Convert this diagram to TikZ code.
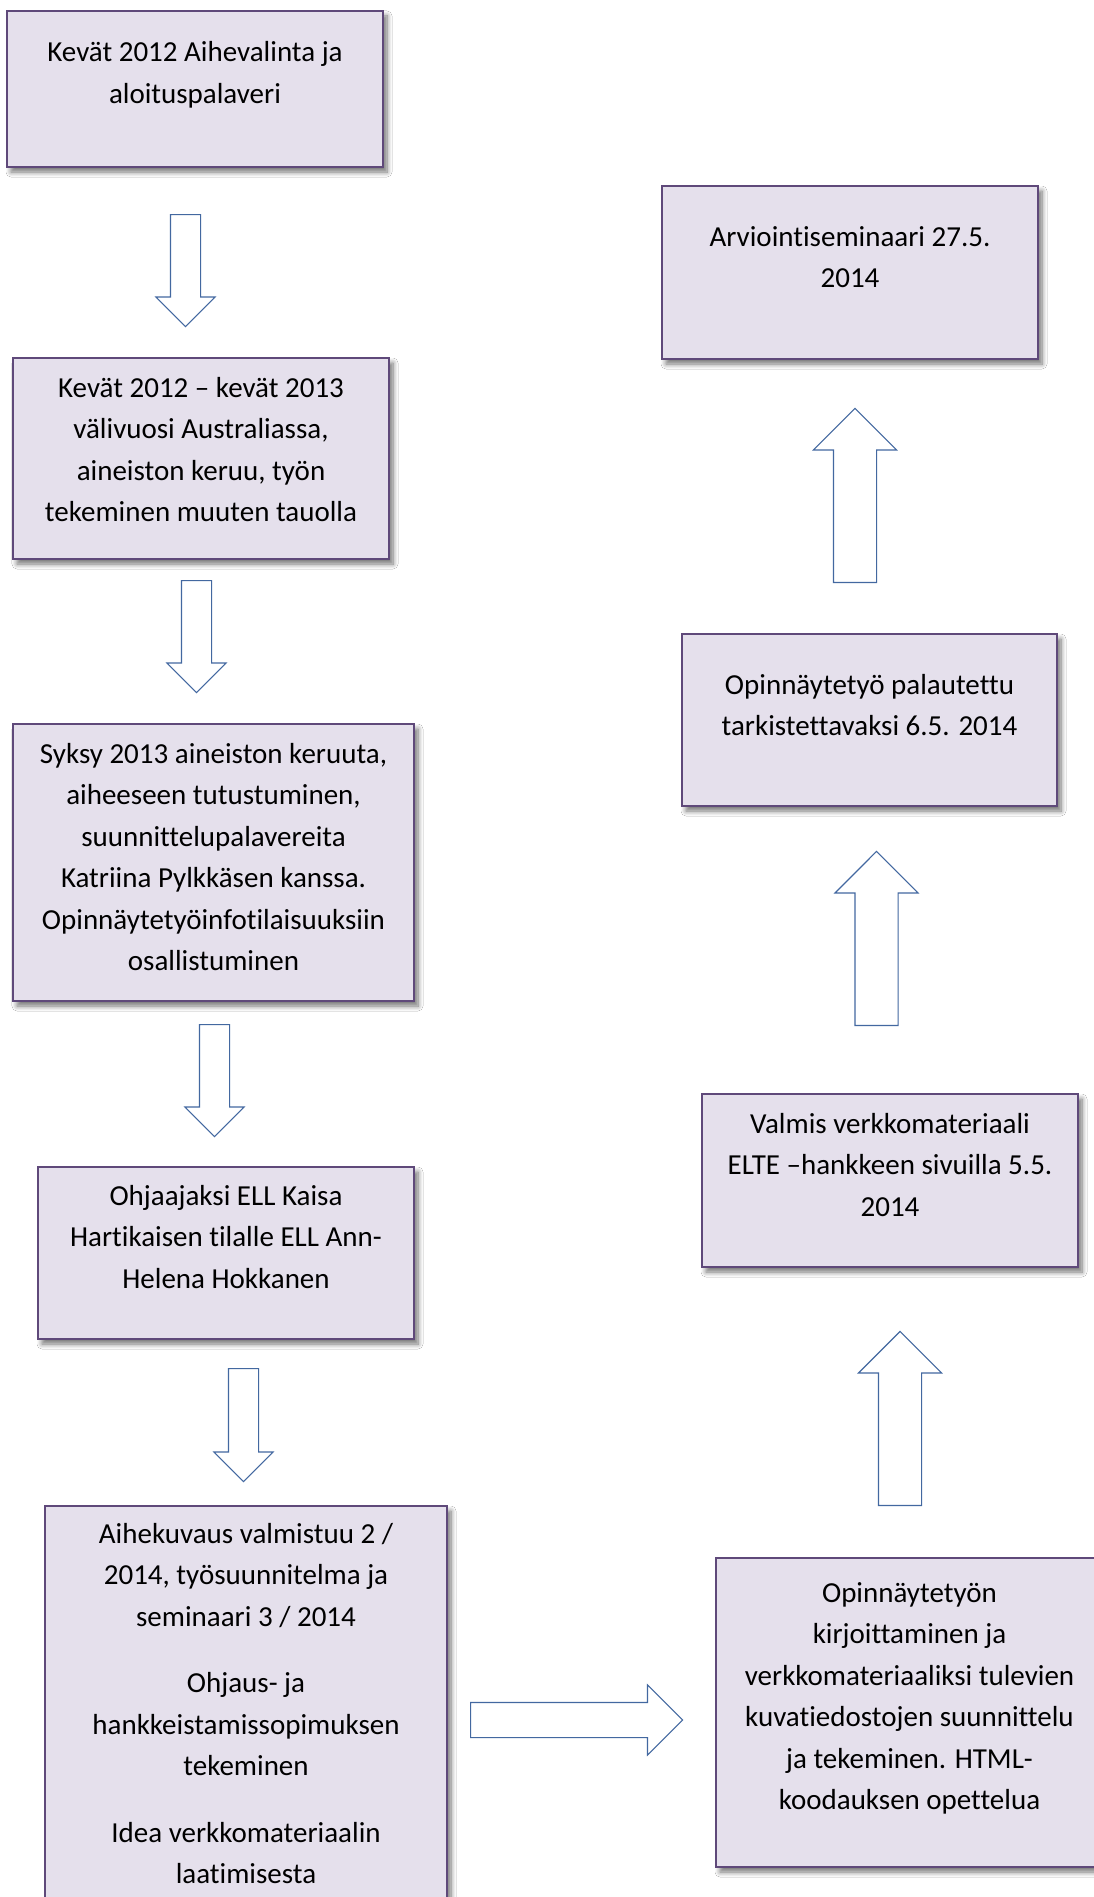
\documentclass[tikz,border=0pt]{standalone}
\usepackage{fontspec}
\setmainfont[Ligatures={NoCommon}]{Carlito}
\usepackage{tikz}
\usetikzlibrary{shapes.arrows,shadows.blur}
\definecolor{CardLine}{HTML}{5F497A}
\definecolor{CardFill}{HTML}{E5E0EC}
\definecolor{ArrowLine}{HTML}{4368A0}
\newcommand{\cardfont}{\fontsize{29}{41.5}\selectfont}
% width, height, first baseline, text
\newcommand{\cardtext}[4]{\parbox[t][#2pt][t]{#1pt}{\centering\vspace*{\dimexpr#3pt-29pt\relax}\rule{0pt}{29pt}#4}}
\tikzset{
  card/.style={draw=CardLine,fill=CardFill,line width=2.5pt,inner sep=0pt,outer sep=0pt,
    anchor=north west,font=\cardfont,
    blur shadow={shadow xshift=4pt,shadow yshift=-5pt,shadow blur radius=5pt,shadow blur steps=8,shadow opacity=55}},
  fatarrow/.style n args={3}{single arrow,draw=ArrowLine,fill=white,line width=1.1pt,
    inner xsep=0pt,inner ysep=#1,single arrow head extend=#2,single arrow tip angle=90,
    single arrow head indent=0pt,minimum height=#3,minimum width=0pt,anchor=tail}
}

\begin{document}
\begin{tikzpicture}[x=1pt,y=-1pt]
  \clip (0,0) rectangle (1094,1897);
  \fill[white] (0,0) rectangle (1094,1897);

  % left column
  \node[card] (kevat) at (7,11) {\cardtext{376}{156}{51}{Kevät 2012 Aihevalinta ja\\aloituspalaveri}};
  \node[card] (valivuosi) at (13,358) {\cardtext{376}{201}{39}{Kevät 2012 – kevät 2013\\välivuosi Australiassa,\\aineiston keruu, työn\\tekeminen muuten tauolla}};
  \node[card] (syksy) at (13,724) {\cardtext{401}{277}{39}{Syksy 2013 aineiston keruuta,\\aiheeseen tutustuminen,\\suunnittelupalavereita\\Katriina Pylkkäsen kanssa.\\Opinnäytetyöinfotilaisuuksiin\\osallistuminen}};
  \node[card] (ohjaaja) at (38,1167) {\cardtext{376}{172}{38}{Ohjaajaksi ELL Kaisa\\Hartikaisen tilalle ELL Ann-\\Helena Hokkanen}};
  \node[card] (aihekuvaus) at (45,1506) {\cardtext{402}{420}{37}{Aihekuvaus valmistuu 2 /\\2014, työsuunnitelma ja\\seminaari 3 / 2014\par\vspace{25pt}
    Ohjaus- ja\\hankkeistamissopimuksen\\tekeminen\par\vspace{25pt}
    Idea verkkomateriaalin\\laatimisesta}};

  % right column
  \node[card] (kirjoitus) at (716,1558) {\cardtext{387}{309}{44}{Opinnäytetyön\\kirjoittaminen ja\\verkkomateriaaliksi tulevien\\kuvatiedostojen suunnittelu\\ja tekeminen. HTML-\\koodauksen opettelua}};
  \node[card] (valmis) at (702,1094) {\cardtext{376}{173}{39}{Valmis verkkomateriaali\\ELTE –hankkeen sivuilla 5.5.\\2014}};
  \node[card] (palautus) at (682,634) {\cardtext{375}{172}{60}{Opinnäytetyö palautettu\\tarkistettavaksi 6.5. 2014}};
  \node[card] (arviointi) at (662,186) {\cardtext{376}{173}{60}{Arviointiseminaari 27.5.\\2014}};

  % block arrows
  \node[fatarrow={14.5}{14.5}{112},rotate=-90] (a1) at (185.5,214) {};
  \node[fatarrow={14.5}{14.5}{112},rotate=-90] (a2) at (196.5,580) {};
  \node[fatarrow={14.5}{14.5}{112},rotate=-90] (a3) at (214.5,1024) {};
  \node[fatarrow={14.5}{14.5}{113},rotate=-90] (a4) at (243.5,1368) {};
  \node[fatarrow={17}{17.5}{212}] (a5) at (470,1720) {};
  \node[fatarrow={21}{20}{174},rotate=90] (a6) at (900,1506) {};
  \node[fatarrow={21}{20}{174},rotate=90] (a7) at (876.5,1026) {};
  \node[fatarrow={21}{20}{174},rotate=90] (a8) at (855,583) {};
\end{tikzpicture}
\end{document}
